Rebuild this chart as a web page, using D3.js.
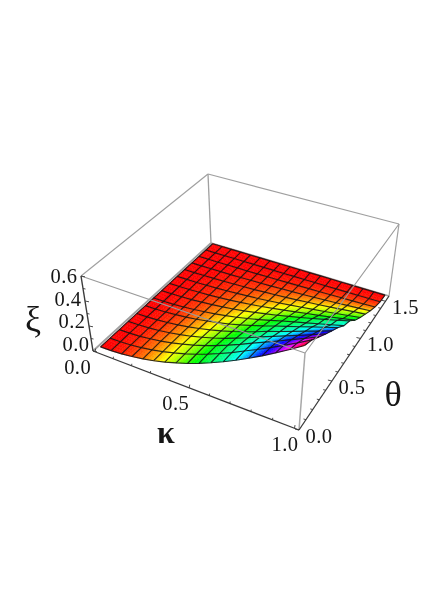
<!DOCTYPE html>
<html>
<head>
<meta charset="utf-8">
<script src="https://cdnjs.cloudflare.com/ajax/libs/d3/7.8.5/d3.min.js"></script>
<style>
html,body{margin:0;padding:0;background:#fff}
svg{display:block}
text{font-family:"Liberation Serif",serif;fill:#151515}
</style>
</head>
<body>
<svg id="chart" width="436" height="616"></svg>
<script>
// ---- data ----
const kappaValues = [0,0.059,0.118,0.176,0.235,0.294,0.353,0.412,0.471,0.529,0.588,0.647,0.706,0.765,0.824,0.882,0.941,1];
const thetaValues = [0.06,0.168,0.276,0.384,0.491,0.599,0.707,0.815,0.923,1.031,1.139,1.247,1.355,1.463,1.571];
const xiRow00 = [0,0,0,0,0,0,0,0,0,0,0,0,0,0,0];
const xiRow01 = [.002,.002,.002,.002,.001,.001,.001,.001,.001,.001,0,0,0,0,0];
const xiRow02 = [.008,.008,.007,.007,.006,.005,.004,.004,.003,.002,.001,.001,0,0,0];
const xiRow03 = [.019,.018,.018,.016,.014,.012,.010,.008,.007,.005,.003,.002,.001,0,0];
const xiRow04 = [.033,.032,.031,.028,.025,.021,.018,.015,.011,.008,.006,.003,.002,0,0];
const xiRow05 = [.052,.051,.048,.044,.039,.034,.029,.023,.018,.013,.009,.005,.002,.001,0];
const xiRow06 = [.075,.073,.070,.063,.056,.049,.041,.033,.026,.019,.013,.008,.003,.001,0];
const xiRow07 = [.102,.099,.095,.086,.076,.066,.056,.045,.035,.026,.017,.010,.005,.001,0];
const xiRow08 = [.132,.129,.123,.112,.099,.086,.073,.059,.046,.033,.023,.013,.006,.001,0];
const xiRow09 = [.167,.163,.156,.141,.125,.109,.092,.075,.058,.042,.029,.017,.008,.002,0];
const xiRow10 = [.207,.202,.193,.175,.155,.135,.114,.093,.072,.052,.035,.021,.010,.002,0];
const xiRow11 = [.250,.244,.233,.211,.187,.163,.138,.112,.087,.063,.043,.025,.012,.003,0];
const xiRow12 = [.298,.291,.277,.251,.223,.194,.164,.133,.103,.075,.051,.030,.014,.003,0];
const xiRow13 = [.350,.338,.319,.288,.254,.223,.188,.154,.119,.087,.060,.035,.016,.004,0];
const xiRow14 = [.405,.389,.362,.326,.288,.252,.212,.177,.134,.099,.069,.041,.019,.004,0];
const xiRow15 = [.465,.442,.407,.364,.322,.282,.236,.201,.151,.112,.079,.047,.021,.005,0];
const xiRow16 = [.529,.498,.453,.403,.356,.312,.260,.225,.168,.126,.090,.054,.024,.006,0];
const xiRow17 = [.598,.558,.500,.444,.392,.343,.285,.252,.187,.140,.100,.061,.028,.007,0];
const xiTable = [xiRow00,xiRow01,xiRow02,xiRow03,xiRow04,xiRow05,xiRow06,xiRow07,xiRow08,xiRow09,xiRow10,xiRow11,xiRow12,xiRow13,xiRow14,xiRow15,xiRow16,xiRow17];
const kappaTickLabels = ["0.0","0.5","1.0"];
const thetaTickLabels = ["0.0","0.5","1.0","1.5"];
const xiTickLabels = ["0.0","0.2","0.4","0.6"];
const hueStops = [0,0.07,0.15,0.3,0.4,0.6];
const hueDegrees = [0,60,120,180,240,360];

// ---- layout: box corners in the picture, order (k0,t0),(k1,t0),(k1,t1),(k0,t1) ----
const bottomQuad = [[93,351],[299,430],[389,296],[211,243]];
const topQuad = [[81,276],[305,353],[399,224],[208,174]];

function homography(p){
  const [[x0,y0],[x1,y1],[x2,y2],[x3,y3]] = p;
  const dx1=x1-x2, dx2=x3-x2, sx=x0-x1+x2-x3, dy1=y1-y2, dy2=y3-y2, sy=y0-y1+y2-y3;
  const den=dx1*dy2-dx2*dy1, g=(sx*dy2-dx2*sy)/den, h=(dx1*sy-sx*dy1)/den;
  const a=x1-x0+g*x1, b=x3-x0+h*x3, d=y1-y0+g*y1, e=y3-y0+h*y3;
  return (u,v)=>{const w=g*u+h*v+1; return [(a*u+b*v+x0)/w,(d*u+e*v+y0)/w];};
}
const hBottom = homography(bottomQuad), hTop = homography(topQuad);
const K0=-0.012,K1=1.02,T1=1.575,Z1=0.6;
const kScale = d3.scaleLinear().domain([K0,K1]).range([0,1]);
const tScale = d3.scaleLinear().domain([0,T1]).range([0,1]);
const zScale = d3.scaleLinear().domain([0,Z1]).range([0,1]);
const hueScale = d3.scaleLinear().domain(hueStops).range(hueDegrees);
function project(k,t,z){
  const u=kScale(k), v=tScale(t), w=zScale(z);
  const a=hBottom(u,v), b=hTop(u,v);
  return [a[0]+(b[0]-a[0])*w, a[1]+(b[1]-a[1])*w];
}
const color = z => d3.hsl(hueScale(z),1,0.5).formatHex();
const line = d3.line();

const svg = d3.select("#chart");
svg.append("defs").append("filter").attr("id","soft").attr("x","-5%").attr("y","-5%").attr("width","110%").attr("height","110%")
  .append("feGaussianBlur").attr("stdDeviation",0.4);
const root = svg.append("g").attr("filter","url(#soft)");

function edge(g,a,b,stroke,w){
  g.append("path").attr("d",line([project(...a),project(...b)])).attr("fill","none").attr("stroke",stroke).attr("stroke-width",w);
}
// back edges
const back = root.append("g");
const GREY="#a0a0a0";
edge(back,[K0,T1,0],[K0,T1,Z1],GREY,1.3);
edge(back,[K0,0,Z1],[K0,T1,Z1],GREY,1.2);
edge(back,[K0,T1,Z1],[K1,T1,Z1],GREY,1.2);
edge(back,[K1,T1,0],[K1,T1,Z1],GREY,1.2);
edge(back,[K0,0,0],[K0,T1,0],GREY,1.8);
edge(back,[K0,T1,0],[K1,T1,0],GREY,1.8);

// surface: each mesh cell is shaded in small steps so hue follows height
const steps = 4;
const surf = root.append("g");
const patches = [];
for(let i=0;i<kappaValues.length-1;i++){
  for(let j=0;j<thetaValues.length-1;j++){
    const k0=kappaValues[i],k1=kappaValues[i+1],t0=thetaValues[j],t1=thetaValues[j+1];
    const z00=xiTable[i][j],z10=xiTable[i+1][j],z11=xiTable[i+1][j+1],z01=xiTable[i][j+1];
    const bil=(a,b)=>z00*(1-a)*(1-b)+z10*a*(1-b)+z11*a*b+z01*(1-a)*b;
    for(let a=0;a<steps;a++)for(let b=0;b<steps;b++){
      const a0=a/steps,a1=(a+1)/steps,b0=b/steps,b1=(b+1)/steps;
      const P=(x,y)=>project(k0+(k1-k0)*x,t0+(t1-t0)*y,bil(x,y));
      patches.push({pts:[P(a0,b0),P(a1,b0),P(a1,b1),P(a0,b1)],z:bil((a0+a1)/2,(b0+b1)/2),order:k0-t0});
    }
  }
}
patches.sort((p,q)=>p.order-q.order);
surf.selectAll("path").data(patches).join("path")
  .attr("d",d=>line(d.pts)+"Z").attr("fill",d=>color(d.z)).attr("stroke",d=>color(d.z)).attr("stroke-width",0.5);

// mesh lines
const mesh = root.append("g").attr("fill","none").attr("stroke","#141414").attr("stroke-width",1.15).attr("stroke-opacity",0.88);
kappaValues.forEach((k,i)=>{
  mesh.append("path").attr("d",line(thetaValues.map((t,j)=>project(k,t,xiTable[i][j]))));
});
thetaValues.forEach((t,j)=>{
  mesh.append("path").attr("d",line(kappaValues.map((k,i)=>project(k,t,xiTable[i][j]))));
});

// front box edges, over the surface
const front = root.append("g");
edge(front,[K0,0,Z1],[K1,0,Z1],"#9a9a9a",1.1);
edge(front,[K1,0,Z1],[K1,T1,Z1],"#9a9a9a",1.1);
edge(front,[K1,0,0],[K1,0,Z1],"#a8a8a8",1.5);

// axes
const AX="#3a3a3a";
const axes = root.append("g");
edge(axes,[K0,0,0],[K0,0,Z1],AX,1.4);
edge(axes,[K0,0,0],[K1,0,0],AX,1.3);
edge(axes,[K1,0,0],[K1,T1,0],AX,1.3);
function ticks(vals,pos,dx,dy,major){
  vals.forEach(v=>{
    const p=pos(v), m=major(v)?1.6:1;
    axes.append("path").attr("d",line([p,[p[0]+dx*m,p[1]+dy*m]])).attr("fill","none").attr("stroke",AX).attr("stroke-width",0.9);
  });
}
const isMajor5 = v=>Math.abs(v*2-Math.round(v*2))<1e-6;
ticks(d3.scaleLinear().domain([0,1]).ticks(10),v=>project(v,0,0),0.3,-2,isMajor5);
ticks(d3.scaleLinear().domain([0,1.5]).ticks(15),v=>project(K1,v,0),-2.5,-0.6,isMajor5);
ticks(zScale.ticks(6),v=>project(K0,0,v),2.5,0.5,v=>Math.abs(v*5-Math.round(v*5))<1e-6);

// tick labels
const labels = svg.append("g").attr("filter","url(#soft)").attr("font-size",20.5).attr("letter-spacing",0.4).attr("text-anchor","middle");
const put=(s,p,dx,dy)=>labels.append("text").attr("x",p[0]+dx).attr("y",p[1]+dy).text(s);
xiTickLabels.forEach(s=>{
  const v=+s;
  put(s,project(K0,0,v),-17,7-7*(1-v/Z1));
});
kappaTickLabels.forEach(s=>put(s,project(+s,0,0),-17.5+8*(+s),22.5));
thetaTickLabels.forEach(s=>put(s,project(K1,+s,0),20,13));

// axis titles
const titles = svg.append("g").attr("filter","url(#soft)").attr("text-anchor","middle");
titles.append("text").attr("x",33).attr("y",331).attr("font-size",36).text("ξ");
titles.append("text").attr("x",166).attr("y",443).attr("font-size",32).attr("font-weight","bold").text("κ");
titles.append("text").attr("x",393).attr("y",406).attr("font-size",36).text("θ");
</script>
</body>
</html>
